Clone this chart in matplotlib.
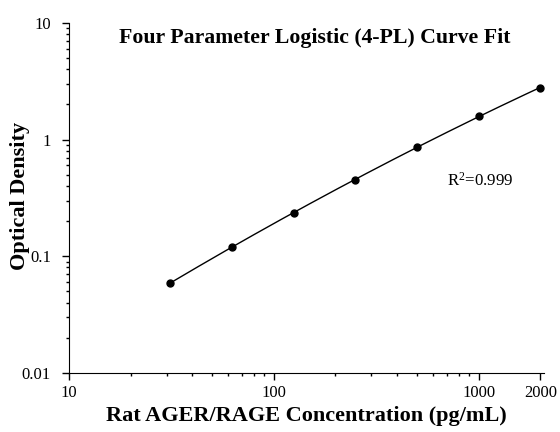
import numpy as np
import matplotlib
matplotlib.use("Agg")
import matplotlib.pyplot as plt
from matplotlib.ticker import LogLocator, FixedLocator, NullFormatter, FixedFormatter

plt.rcParams['font.family'] = ['Liberation Serif', 'DejaVu Serif']
plt.rcParams['mathtext.fontset'] = 'custom'
plt.rcParams['mathtext.rm'] = 'Liberation Serif'
plt.rcParams['mathtext.it'] = 'Liberation Serif:italic'
plt.rcParams['mathtext.bf'] = 'Liberation Serif:bold'

conc = [31.25, 62.5, 125, 250, 500, 1000, 2000]
od = [0.059, 0.12, 0.235, 0.45, 0.865, 1.59, 2.77]
xticks = [10, 100, 1000, 2000]
xticklabels = ['10', '100', '1000', '2000']
yticks = [0.01, 0.1, 1, 10]
yticklabels = ['0.01', '0.1', '1', '10']

fig = plt.figure(figsize=(5.6, 4.32), dpi=100)
ax = fig.add_axes([0.123, 0.137, 0.848, 0.81])

lx = np.log10(conc)
ly = np.log10(od)
coef = np.polyfit(lx, ly, 2)
xs = np.linspace(lx[0], lx[-1], 200)
ax.plot(10**xs, 10**np.polyval(coef, xs), color='black', lw=1)
ax.plot(conc, od, 'o', color='black', ms=5)

ax.set_xscale('log')
ax.set_yscale('log')
ax.set_xlim(10, 2080)
ax.set_ylim(0.01, 10)
ax.xaxis.set_major_locator(FixedLocator(xticks))
ax.xaxis.set_major_formatter(FixedFormatter(xticklabels))
ax.xaxis.set_minor_locator(LogLocator(base=10, subs=np.arange(2, 10)))
ax.xaxis.set_minor_formatter(NullFormatter())
ax.yaxis.set_major_locator(FixedLocator(yticks))
ax.yaxis.set_major_formatter(FixedFormatter(yticklabels))
ax.yaxis.set_minor_locator(LogLocator(base=10, subs=np.arange(2, 10)))
ax.yaxis.set_minor_formatter(NullFormatter())

for s in ['top', 'right']:
    ax.spines[s].set_visible(False)
ax.tick_params(which='major', direction='out', length=5, width=1, labelsize=12)
ax.tick_params(axis='x', which='major', pad=3.5)
ax.tick_params(axis='y', which='major', pad=8)
ax.tick_params(which='minor', direction='out', length=2.5, width=1)

ax.text(0.518, 0.957, 'Four Parameter Logistic (4-PL) Curve Fit', transform=ax.transAxes,
        fontsize=15.7, fontweight='bold', ha='center', va='center')
ax.set_xlabel('Rat AGER/RAGE Concentration (pg/mL)', fontsize=16, fontweight='bold')
ax.set_ylabel('Optical Density', fontsize=16, fontweight='bold')
ax.xaxis.set_label_coords(0.5, -0.137)
ax.xaxis.label.set_va('baseline')
ax.yaxis.set_label_coords(-0.103, 0.505)
ax.yaxis.label.set_va('center')
ax.text(0.796, 0.549, r'R$^{\mathrm{2}}$=0.999', transform=ax.transAxes, fontsize=12.2,
        ha='left', va='center')

fig.savefig('out.png', dpi=100)
